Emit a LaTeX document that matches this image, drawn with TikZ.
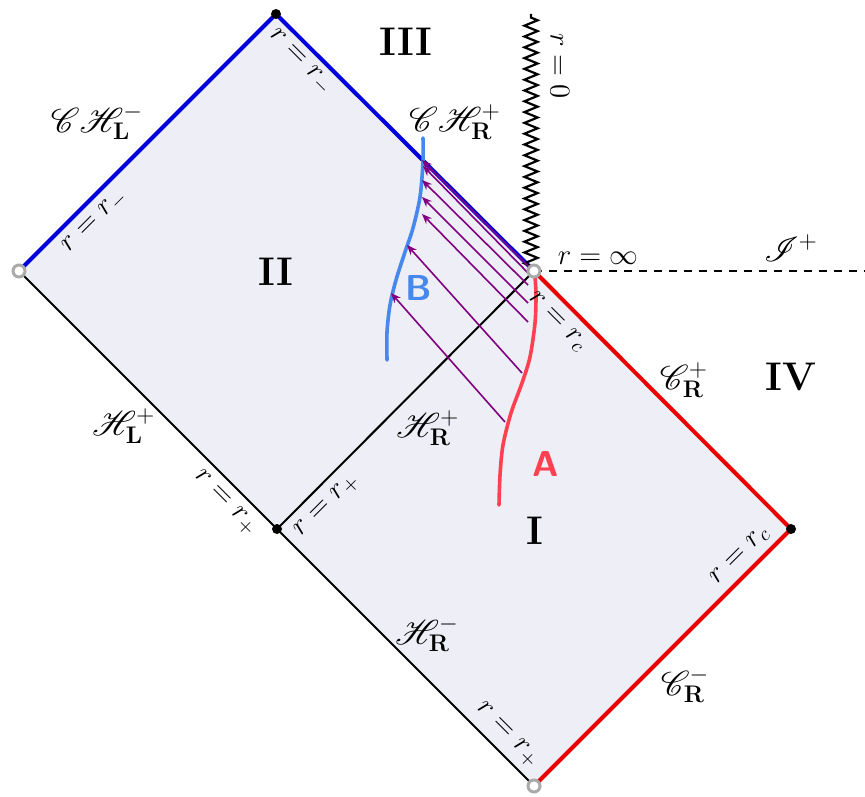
\documentclass[tikz,border=0pt]{standalone}
\usepackage{mathrsfs}
\usetikzlibrary{arrows.meta,decorations.pathmorphing}
\definecolor{fillc}{RGB}{238,238,247}
\definecolor{hblue}{RGB}{0,0,220}
\definecolor{hred}{RGB}{235,0,0}
\definecolor{ared}{RGB}{255,64,80}
\definecolor{bblue}{RGB}{70,136,235}
\definecolor{raycol}{RGB}{128,0,128}
\definecolor{ringc}{RGB}{170,170,170}
\begin{document}
\begin{tikzpicture}[x=0.5pt,y=-0.5pt,
  lbl/.style={font=\fontsize{14.4}{17}\selectfont, inner sep=0pt},
  scrlbl/.style={font=\fontsize{17}{20}\selectfont, inner sep=0pt},
  region/.style={font=\fontsize{20}{24}\selectfont\bfseries, inner sep=0pt},
  horizon/.style={line width=1pt, black},
  cauchy/.style={line width=2pt, hblue},
  cosmo/.style={line width=2pt, hred},
  nullray/.style={line width=0.8pt, raycol, -{Stealth[length=5pt,width=4pt]}},
  openpt/.style={circle, draw=ringc, fill=white, line width=1.5pt, minimum size=6pt, inner sep=0pt},
  fullpt/.style={circle, fill=black, minimum size=5pt, inner sep=0pt},
  obscurve/.style={line width=1.8pt, line cap=round}]
\useasboundingbox (0,0) rectangle (865,796);
% vertices
\coordinate (T) at (276,14);
\coordinate (L) at (19,271);
\coordinate (C) at (534,271);
\coordinate (M) at (277,529);
\coordinate (R) at (791,529);
\coordinate (Bt) at (534,786);
\coordinate (Ztop) at (531,14);
\coordinate (Zbot) at (531,266);
\coordinate (Iend) at (865,271);
% fill
\fill[fillc] (T) -- (C) -- (R) -- (Bt) -- (M) -- (L) -- cycle;
% edges
\draw[horizon] (L) -- (M);
\draw[horizon] (M) -- (C);
\draw[horizon] (M) -- (Bt);
\draw[cauchy] (L) -- (T);
\draw[cauchy] (T) -- (C);
\draw[cosmo] (C) -- (R);
\draw[cosmo] (R) -- (Bt);
% singularity and infinity
\draw[line width=1.1pt, decorate, decoration={zigzag, segment length=5.4pt, amplitude=3.3pt}] (Zbot) -- (Ztop);
\draw[line width=0.9pt, dash pattern=on 4pt off 3.5pt] (C) -- (Iend);
% observer curves
\draw[obscurve, ared] plot[smooth] coordinates {(535,277) (536,295) (535,323) (530,357) (522,383) (511,413) (503,445) (500,475) (499,505)};
\draw[obscurve, bblue] plot[smooth] coordinates {(423,138) (423,162) (420,197) (413,228) (405,252) (396,280) (390,305) (387,332) (387,360)};
% rays
\coordinate (a1) at (531,269); \coordinate (b1) at (422,160);
\coordinate (a2) at (529,274); \coordinate (b2) at (423,166);
\coordinate (a3) at (528,285); \coordinate (b3) at (422,180);
\coordinate (a4) at (528,303); \coordinate (b4) at (422,197);
\coordinate (a5) at (528,322); \coordinate (b5) at (422,214);
\coordinate (a6) at (522,373); \coordinate (b6) at (407,245);
\coordinate (a7) at (505,422); \coordinate (b7) at (391,293);
\foreach \i in {1,...,7} {\draw[nullray] (a\i) -- (b\i);}
% points
\node[fullpt] (pT) at (T) {};
\node[fullpt] (pM) at (M) {};
\node[fullpt] (pR) at (R) {};
\node[openpt] (pL) at (L) {};
\node[openpt] (pC) at (C) {};
\node[openpt] (pB) at (Bt) {};
% region labels
\node[region] (rI) at (535,531) {I};
\node[region] (rII) at (276,272) {II};
\node[region] (rIII) at (406,42) {III};
\node[region] (rIV) at (791,377) {IV};
\node[font=\fontsize{18}{20}\selectfont\sffamily\bfseries, text=ared, inner sep=0pt] (lA) at (546,464) {A};
\node[font=\fontsize{18}{20}\selectfont\sffamily\bfseries, text=bblue, inner sep=0pt] (lB) at (419,288) {B};
% boundary labels
\node[scrlbl] (l1) at (97,122) {$\mathscr{C}\mathscr{H}^-_{\mathbf{L}}$};
\node[scrlbl] (l2) at (455,122) {$\mathscr{C}\mathscr{H}^+_{\mathbf{R}}$};
\node[scrlbl] (l3) at (124,426) {$\mathscr{H}^+_{\mathbf{L}}$};
\node[scrlbl] (l4) at (428,428) {$\mathscr{H}^+_{\mathbf{R}}$};
\node[scrlbl] (l5) at (427,634) {$\mathscr{H}^-_{\mathbf{R}}$};
\node[scrlbl] (l6) at (684,380) {$\mathscr{C}^+_{\mathbf{R}}$};
\node[scrlbl] (l7) at (685,685) {$\mathscr{C}^-_{\mathbf{R}}$};
\node[scrlbl] (l8) at (791,248) {$\mathscr{I}^+$};
\node[lbl] (l9) at (598,258) {$r=\infty$};
\node[lbl, rotate=-90] (l10) at (560,66) {$r=0$};
\node[lbl, rotate=45] (l11) at (95,222) {$r=r_-$};
\node[lbl, rotate=-45] (l12) at (300,62) {$r=r_-$};
\node[lbl, rotate=-45] (l13) at (557,322) {$r=r_c$};
\node[lbl, rotate=-45] (l14) at (225,503) {$r=r_+$};
\node[lbl, rotate=45] (l15) at (327,506) {$r=r_+$};
\node[lbl, rotate=45] (l16) at (740,556) {$r=r_c$};
\node[lbl, rotate=-45] (l17) at (507,735) {$r=r_+$};
\end{tikzpicture}
\end{document}
